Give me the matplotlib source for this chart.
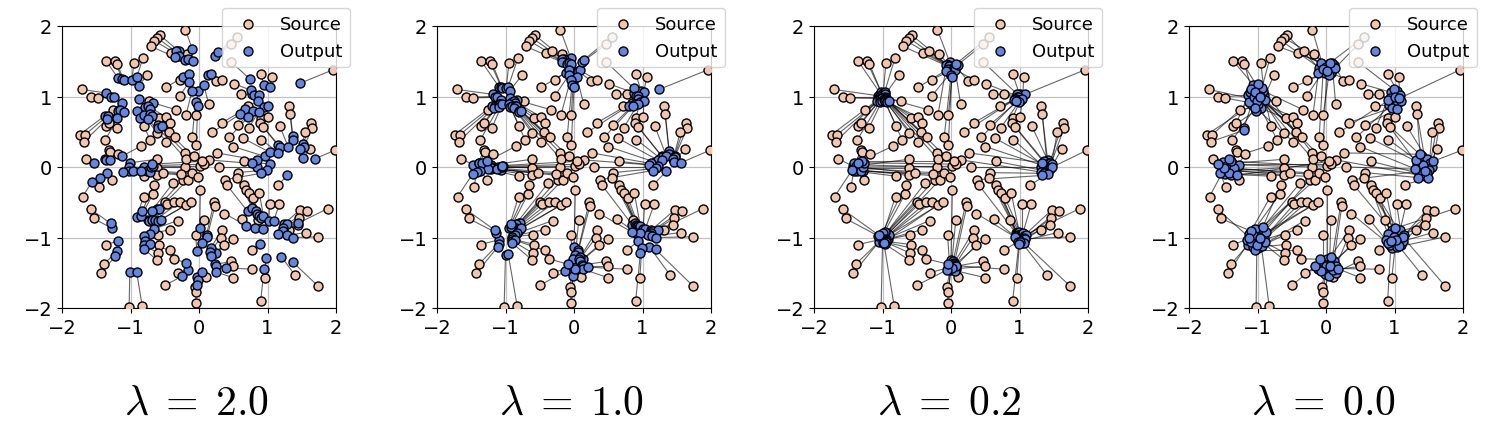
import matplotlib
matplotlib.use("Agg")
import matplotlib.pyplot as plt
import numpy as np
from matplotlib.collections import LineCollection

plt.rcParams['mathtext.fontset'] = 'cm'

lambdas = [2.0, 1.0, 0.2, 0.0]

# source points (same in every panel), grouped by the mode they end up in
src_pts = [
    # N
    (-0.20, 1.95), (-0.57, 1.87), (-0.61, 1.83), (-0.65, 1.79), (-0.70, 1.71),
    (-0.41, 1.62), (-0.32, 1.65), (-0.18, 1.60), (-0.48, 1.13), (-0.28, 1.24),
    (0.25, 1.22), (0.34, 1.23), (-0.28, 1.01), (-0.04, 0.74), (0.14, 0.90),
    (-0.19, 0.74), (0.47, 1.74), (0.55, 1.84), (-0.10, 0.42), (-0.04, 0.31),
    # NE
    (0.51, 1.18), (0.90, 1.32), (1.06, 1.27), (1.96, 1.38), (0.47, 1.49),
    (0.62, 1.04), (0.77, 1.04), (0.72, 0.86), (0.90, 0.70), (1.01, 0.71),
    (0.34, 0.63), (0.57, 0.60), (0.73, 0.56), (0.19, 0.49), (0.44, 0.42),
    # E
    (1.32, 0.87), (1.33, 0.75), (0.89, 0.62), (0.94, 0.57), (1.18, 0.58),
    (1.63, 0.63), (1.65, 0.55), (1.55, 0.49), (0.50, 0.29), (0.64, 0.41),
    (0.91, 0.39), (1.62, 0.26), (1.99, 0.24), (0.66, 0.08), (0.29, 0.00),
    (0.26, 0.20), (0.15, 0.10), (0.57, -0.08), (1.16, -0.25), (0.38, -0.18),
    # SE
    (0.41, -0.26), (0.55, -0.15), (0.65, -0.26), (0.68, -0.33), (0.73, -0.37),
    (0.79, -0.44), (0.88, -0.37), (1.03, -0.52), (1.17, -0.53), (1.47, -0.61),
    (1.57, -0.62), (1.88, -0.59), (1.46, -0.73), (1.45, -0.82), (1.31, -0.89),
    (1.56, -0.93), (1.74, -0.99), (0.63, -0.74), (0.86, -0.75), (0.37, -0.66),
    (0.77, -1.18), (1.40, -1.53), (1.74, -1.69), (0.96, -1.58), (0.90, -1.90),
    # S
    (0.02, -0.32), (0.22, -0.50), (0.23, -0.56), (0.07, -0.75), (-0.05, -0.97),
    (0.50, -1.02), (0.34, -0.89), (0.32, -1.00), (0.36, -1.11), (-0.31, -1.50),
    (-0.06, -1.70), (-0.04, -1.78), (-0.05, -1.93), (0.47, -1.34), (0.50, -1.41),
    (0.50, -1.57), (0.78, -1.45), (0.10, -1.56), (-0.50, -1.68), (-0.37, -1.30),
    # SW
    (-0.24, -0.18), (-0.16, -0.18), (-0.38, -0.23), (-0.50, -0.49), (-0.46, -0.52),
    (-0.36, -0.50), (-0.28, -0.50), (-0.19, -0.54), (-0.12, -0.50), (-0.81, -0.42),
    (-0.67, -0.38), (-0.66, -0.25), (-0.31, -0.76), (-0.43, -0.89), (-0.60, -0.96),
    (-0.58, -1.10), (-0.60, -1.22), (-0.43, -1.18), (-0.61, -1.32), (-1.36, -1.10),
    (-1.38, -1.37), (-1.43, -1.51), (-1.02, -1.98), (-0.83, -1.97), (-1.54, -0.73),
    (-1.58, -0.60),
    # W
    (-1.65, 0.12), (-1.32, 0.24), (-1.30, 0.21), (-1.18, 0.19), (-0.61, 0.11),
    (-0.62, -0.01), (-0.62, -0.12), (-0.53, -0.09), (-0.81, -0.13), (-1.27, -0.18),
    (-1.46, -0.29), (-1.70, -0.42), (-0.20, 0.00), (-0.10, -0.09), (-0.02, -0.14),
    (-0.26, -0.10), (0.01, 0.01), (0.08, 0.04), (0.04, 0.08), (-0.84, 0.30),
    # NW
    (-1.36, 1.51), (-1.23, 1.50), (-1.19, 1.46), (-0.95, 1.47), (-0.82, 1.54),
    (-0.76, 1.30), (-1.71, 1.10), (-1.58, 0.99), (-1.48, 0.98), (-1.26, 0.81),
    (-0.73, 0.93), (-0.33, 0.81), (-0.58, 0.69), (-0.48, 0.71), (-0.42, 0.63),
    (-1.74, 0.46), (-1.66, 0.46), (-1.68, 0.36), (-1.36, 0.58), (-1.31, 0.62),
    (-1.37, 0.38), (-1.20, 0.55), (-0.80, 0.58), (-0.71, 0.38), (-0.61, 0.48),
    (-0.44, 0.49), (-0.35, 0.43), (-0.48, 0.36), (-0.20, 0.20), (-0.19, 0.11),
    (-0.08, 0.15),
]

out_lam20 = [
    (-0.10, 1.68), (-0.29, 1.64), (-0.34, 1.64), (-0.29, 1.58), (-0.35, 1.56),
    (-0.21, 1.52), (-0.16, 1.53), (-0.09, 1.50), (-0.24, 1.27), (-0.14, 1.32),
    (0.13, 1.31), (0.17, 1.32), (-0.14, 1.21), (-0.02, 1.08), (0.07, 1.16),
    (-0.10, 1.08), (0.24, 1.58), (0.28, 1.63), (-0.05, 0.92), (-0.02, 0.86),
    (0.76, 1.09), (0.95, 1.16), (1.03, 1.14), (1.48, 1.19), (0.74, 1.25),
    (0.81, 1.02), (0.88, 1.02), (0.86, 0.93), (0.95, 0.85), (1.00, 0.86),
    (0.67, 0.82), (0.79, 0.80), (0.87, 0.78), (0.60, 0.75), (0.72, 0.71),
    (1.37, 0.44), (1.37, 0.38), (1.15, 0.31), (1.18, 0.29), (1.30, 0.29),
    (1.52, 0.32), (1.53, 0.28), (1.48, 0.25), (0.96, 0.15), (1.03, 0.21),
    (1.16, 0.20), (1.52, 0.13), (1.70, 0.12), (1.04, 0.04), (0.85, 0.00),
    (0.84, 0.10), (0.78, 0.05), (0.99, -0.04), (1.29, -0.12), (0.90, -0.09),
    (0.71, -0.63), (0.78, -0.58), (0.83, -0.63), (0.84, -0.67), (0.87, -0.69),
    (0.90, -0.72), (0.94, -0.69), (1.02, -0.76), (1.09, -0.77), (1.24, -0.81),
    (1.29, -0.81), (1.44, -0.80), (1.23, -0.87), (1.23, -0.91), (1.16, -0.95),
    (1.28, -0.97), (1.37, -1.00), (0.82, -0.87), (0.93, -0.88), (0.69, -0.83),
    (0.89, -1.09), (1.20, -1.27), (1.37, -1.35), (0.98, -1.29), (0.95, -1.45),
    (0.01, -0.87), (0.11, -0.96), (0.12, -0.99), (0.04, -1.08), (-0.03, -1.19),
    (0.25, -1.22), (0.17, -1.15), (0.16, -1.21), (0.18, -1.26), (-0.16, -1.46),
    (-0.03, -1.56), (-0.02, -1.60), (-0.03, -1.67), (0.24, -1.38), (0.25, -1.41),
    (0.25, -1.49), (0.39, -1.43), (0.05, -1.49), (-0.25, -1.55), (-0.19, -1.36),
    (-0.62, -0.59), (-0.58, -0.59), (-0.69, -0.62), (-0.75, -0.75), (-0.73, -0.76),
    (-0.68, -0.75), (-0.64, -0.75), (-0.60, -0.77), (-0.56, -0.75), (-0.91, -0.71),
    (-0.84, -0.69), (-0.83, -0.63), (-0.66, -0.88), (-0.72, -0.95), (-0.80, -0.98),
    (-0.79, -1.05), (-0.80, -1.11), (-0.72, -1.09), (-0.81, -1.16), (-1.18, -1.05),
    (-1.19, -1.19), (-1.22, -1.26), (-1.01, -1.49), (-0.91, -1.49), (-1.27, -0.87),
    (-1.29, -0.80),
    (-1.53, 0.06), (-1.37, 0.12), (-1.36, 0.10), (-1.30, 0.10), (-1.01, 0.06),
    (-1.02, 0.00), (-1.02, -0.06), (-0.97, -0.05), (-1.11, -0.07), (-1.34, -0.09),
    (-1.44, -0.15), (-1.56, -0.21), (-0.81, 0.00), (-0.76, -0.05), (-0.72, -0.07),
    (-0.84, -0.05), (-0.70, 0.00), (-0.67, 0.02), (-0.69, 0.04), (-1.13, 0.15),
    (-1.18, 1.26), (-1.12, 1.25), (-1.10, 1.23), (-0.98, 1.24), (-0.91, 1.27),
    (-0.88, 1.15), (-1.36, 1.05), (-1.29, 1.00), (-1.24, 0.99), (-1.13, 0.91),
    (-0.87, 0.97), (-0.67, 0.91), (-0.79, 0.85), (-0.74, 0.86), (-0.71, 0.82),
    (-1.37, 0.73), (-1.33, 0.73), (-1.34, 0.68), (-1.18, 0.79), (-1.16, 0.81),
    (-1.19, 0.69), (-1.10, 0.78), (-0.90, 0.79), (-0.86, 0.69), (-0.81, 0.74),
    (-0.72, 0.75), (-0.68, 0.72), (-0.74, 0.68), (-0.60, 0.60), (-0.60, 0.56),
    (-0.54, 0.58),
]

out_lam10 = [
    (-0.05, 1.55), (-0.14, 1.53), (-0.17, 1.53), (-0.14, 1.49), (-0.18, 1.49),
    (-0.10, 1.46), (-0.08, 1.47), (-0.05, 1.46), (-0.12, 1.34), (-0.07, 1.37),
    (0.06, 1.36), (0.09, 1.37), (-0.07, 1.31), (-0.01, 1.24), (0.04, 1.28),
    (-0.05, 1.24), (0.12, 1.49), (0.14, 1.52), (-0.03, 1.16), (0.00, 1.13),
    (0.88, 1.05), (0.98, 1.08), (1.02, 1.07), (1.24, 1.10), (0.87, 1.12),
    (0.90, 1.01), (0.94, 1.01), (0.93, 0.96), (0.97, 0.92), (1.02, 0.93),
    (0.84, 0.91), (0.89, 0.90), (0.93, 0.89), (0.80, 0.87), (0.86, 0.86),
    (1.39, 0.22), (1.39, 0.19), (1.28, 0.16), (1.29, 0.14), (1.35, 0.15),
    (1.47, 0.16), (1.47, 0.14), (1.45, 0.12), (1.18, 0.07), (1.22, 0.10),
    (1.29, 0.10), (1.46, 0.07), (1.56, 0.06), (1.22, 0.02), (1.13, 0.00),
    (1.12, 0.05), (1.10, 0.03), (1.20, -0.02), (1.35, -0.06), (1.15, -0.05),
    (0.85, -0.82), (0.89, -0.79), (0.91, -0.82), (0.92, -0.83), (0.93, -0.84),
    (0.95, -0.86), (0.97, -0.84), (1.01, -0.88), (1.04, -0.88), (1.12, -0.90),
    (1.14, -0.91), (1.22, -0.90), (1.12, -0.93), (1.11, -0.96), (1.08, -0.97),
    (1.14, -0.98), (1.19, -1.00), (0.91, -0.94), (0.97, -0.94), (0.84, -0.92),
    (0.94, -1.05), (1.10, -1.13), (1.19, -1.17), (0.99, -1.15), (0.97, -1.22),
    (0.00, -1.14), (0.06, -1.18), (0.06, -1.20), (0.02, -1.25), (-0.01, -1.30),
    (0.13, -1.31), (0.09, -1.28), (0.08, -1.31), (0.09, -1.34), (-0.08, -1.43),
    (-0.02, -1.48), (-0.01, -1.50), (-0.01, -1.54), (0.12, -1.39), (0.13, -1.41),
    (0.13, -1.45), (0.20, -1.42), (0.02, -1.45), (-0.13, -1.48), (-0.09, -1.38),
    (-0.81, -0.80), (-0.79, -0.80), (-0.85, -0.81), (-0.88, -0.87), (-0.87, -0.88),
    (-0.84, -0.87), (-0.82, -0.88), (-0.80, -0.89), (-0.78, -0.87), (-0.95, -0.86),
    (-0.92, -0.85), (-0.92, -0.81), (-0.83, -0.94), (-0.86, -0.97), (-0.90, -0.99),
    (-0.90, -1.02), (-0.90, -1.05), (-0.86, -1.04), (-0.90, -1.08), (-1.09, -1.03),
    (-1.10, -1.09), (-1.11, -1.13), (-1.00, -1.25), (-0.96, -1.24), (-1.14, -0.93),
    (-1.15, -0.90),
    (-1.47, 0.03), (-1.39, 0.06), (-1.38, 0.05), (-1.35, 0.05), (-1.21, 0.03),
    (-1.21, 0.00), (-1.21, -0.03), (-1.19, -0.02), (-1.26, -0.03), (-1.37, -0.05),
    (-1.42, -0.07), (-1.48, -0.10), (-1.11, 0.00), (-1.08, -0.02), (-1.06, -0.04),
    (-1.12, -0.03), (-1.05, 0.00), (-1.04, 0.01), (-1.05, 0.02), (-1.27, 0.08),
    (-1.09, 1.13), (-1.06, 1.13), (-1.05, 1.12), (-0.99, 1.12), (-0.96, 1.14),
    (-0.94, 1.08), (-1.18, 1.03), (-1.15, 1.00), (-1.12, 0.99), (-1.07, 0.95),
    (-0.93, 0.98), (-0.83, 0.95), (-0.90, 0.92), (-0.87, 0.93), (-0.86, 0.91),
    (-1.19, 0.87), (-1.16, 0.87), (-1.17, 0.84), (-1.09, 0.90), (-1.08, 0.90),
    (-1.10, 0.85), (-1.05, 0.89), (-0.95, 0.90), (-0.93, 0.85), (-0.90, 0.87),
    (-0.86, 0.87), (-0.84, 0.86), (-0.87, 0.84), (-0.80, 0.80), (-0.80, 0.78),
    (-0.77, 0.79),
]

out_lam02 = [
    (-0.02, 1.49), (-0.05, 1.45), (-0.06, 1.45), (-0.05, 1.44), (-0.07, 1.44),
    (-0.03, 1.43), (-0.03, 1.43), (0.03, 1.40), (-0.04, 1.39), (-0.02, 1.36),
    (0.08, 1.42), (0.05, 1.39), (-0.01, 1.33), (0.02, 1.31), (0.06, 1.38),
    (-0.08, 1.36), (0.10, 1.45), (0.07, 1.46), (0.00, 1.30), (0.01, 1.27),
    (0.96, 1.01), (1.00, 1.03), (1.05, 1.02), (1.08, 1.03), (0.96, 1.04),
    (0.97, 0.99), (0.98, 1.00), (0.95, 0.97), (1.01, 0.94), (1.04, 0.96),
    (0.93, 0.96), (0.97, 0.93), (0.99, 0.92), (0.92, 0.95), (0.95, 0.93),
    (1.40, 0.07), (1.41, 0.10), (1.37, 0.05), (1.36, 0.08), (1.43, 0.06),
    (1.44, 0.05), (1.45, 0.02), (1.47, 0.04), (1.34, 0.02), (1.35, 0.03),
    (1.38, -0.02), (1.45, -0.03), (1.48, 0.00), (1.35, -0.05), (1.32, 0.00),
    (1.33, 0.06), (1.31, -0.07), (1.36, -0.09), (1.42, -0.10), (1.33, -0.12),
    (0.95, -0.94), (0.96, -0.93), (0.97, -0.96), (0.99, -0.92), (0.98, -0.97),
    (1.02, -0.95), (1.01, -0.99), (1.03, -0.97), (1.05, -0.94), (1.06, -0.98),
    (1.08, -1.00), (1.09, -0.96), (1.05, -1.02), (1.06, -1.01), (1.04, -1.05),
    (1.07, -1.04), (1.08, -1.02), (0.97, -1.02), (0.99, -1.04), (0.93, -0.99),
    (0.98, -1.06), (1.04, -1.08), (1.07, -1.08), (1.00, -1.07), (0.99, -1.09),
    (0.00, -1.32), (0.03, -1.34), (0.05, -1.36), (0.01, -1.38), (-0.02, -1.40),
    (0.06, -1.38), (0.04, -1.37), (0.05, -1.40), (0.07, -1.41), (-0.05, -1.43),
    (-0.01, -1.44), (0.00, -1.45), (-0.01, -1.46), (0.05, -1.41), (0.08, -1.44),
    (0.06, -1.47), (0.08, -1.40), (0.02, -1.43), (-0.06, -1.46), (-0.04, -1.38),
    (-0.94, -0.93), (-0.92, -0.95), (-0.95, -0.94), (-0.96, -0.96), (-0.97, -0.99),
    (-0.93, -0.98), (-0.95, -1.00), (-0.92, -1.02), (-0.91, -0.97), (-0.99, -0.95),
    (-0.97, -0.92), (-1.00, -0.93), (-0.95, -1.02), (-0.96, -1.03), (-0.98, -1.04),
    (-0.99, -1.05), (-0.97, -1.06), (-0.95, -1.07), (-0.97, -1.09), (-1.04, -1.03),
    (-1.03, -1.04), (-1.05, -1.06), (-1.00, -1.08), (-0.98, -1.08), (-1.06, -0.98),
    (-1.05, -0.97),
    (-1.43, 0.01), (-1.40, 0.03), (-1.42, 0.05), (-1.39, 0.02), (-1.35, 0.02),
    (-1.34, -0.01), (-1.35, -0.04), (-1.33, 0.00), (-1.37, -0.06), (-1.40, -0.04),
    (-1.42, -0.05), (-1.44, -0.04), (-1.31, 0.03), (-1.30, -0.02), (-1.29, -0.05),
    (-1.32, -0.06), (-1.28, 0.00), (-1.27, 0.06), (-1.30, 0.08), (-1.36, 0.06),
    (-1.03, 1.04), (-1.02, 1.06), (-1.00, 1.02), (-0.99, 1.05), (-0.97, 1.06),
    (-0.96, 1.03), (-1.06, 1.01), (-1.05, 0.99), (-1.04, 0.97), (-1.02, 0.96),
    (-0.97, 0.99), (-0.95, 0.98), (-0.96, 0.96), (-0.97, 0.94), (-0.95, 0.95),
    (-1.06, 0.96), (-1.05, 0.94), (-1.08, 0.93), (-1.03, 0.96), (-1.01, 0.98),
    (-1.04, 0.92), (-1.01, 0.93), (-0.98, 0.97), (-0.97, 0.94), (-0.96, 0.95),
    (-0.95, 0.96), (-0.94, 0.95), (-0.96, 0.93), (-0.94, 0.94), (-0.93, 0.92),
    (-0.91, 0.93),
]

out_lam00 = [
    (-0.05, 1.45), (-0.10, 1.40), (0.04, 1.46), (-0.03, 1.36), (0.08, 1.43),
    (-0.07, 1.47), (0.02, 1.38), (0.10, 1.39), (-0.02, 1.33), (0.05, 1.35),
    (0.12, 1.44), (0.07, 1.33), (0.00, 1.42), (0.04, 1.30), (0.09, 1.47),
    (-0.11, 1.34), (0.13, 1.40), (0.06, 1.48), (-0.04, 1.39), (0.01, 1.36),
    (0.95, 1.06), (1.04, 1.08), (1.08, 1.02), (1.02, 0.95), (0.99, 1.10),
    (0.94, 0.98), (0.97, 0.92), (0.92, 0.88), (1.03, 0.89), (1.09, 0.93),
    (0.96, 0.84), (1.04, 0.82), (0.90, 0.95), (1.00, 1.00), (1.06, 0.98),
    (1.38, 0.12), (1.45, 0.08), (1.33, 0.05), (1.40, 0.15), (1.47, 0.12),
    (1.52, 0.05), (1.55, 0.00), (1.50, -0.04), (1.36, -0.05), (1.42, 0.03),
    (1.32, 0.10), (1.47, -0.08), (1.56, 0.08), (1.40, -0.10), (1.30, -0.03),
    (1.37, 0.18), (1.44, -0.13), (1.35, -0.15), (1.49, -0.15), (1.44, -0.05),
    (0.96, -0.90), (1.02, -0.94), (0.92, -1.00), (1.05, -0.98), (1.09, -0.95),
    (0.98, -1.06), (1.03, -1.08), (1.11, -1.03), (1.08, -0.90), (1.14, -0.97),
    (0.95, -1.12), (1.01, -0.87), (1.10, -1.10), (0.90, -0.95), (0.88, -1.03),
    (1.13, -1.05), (0.97, -1.15), (0.93, -1.10), (1.04, -1.13), (0.90, -1.08),
    (0.99, -0.99), (1.06, -1.12), (1.12, -0.99), (1.02, -1.03), (0.95, -1.05),
    (0.02, -1.30), (0.08, -1.35), (0.10, -1.42), (0.05, -1.48), (-0.05, -1.38),
    (0.12, -1.33), (0.07, -1.27), (0.15, -1.40), (0.03, -1.45), (-0.12, -1.44),
    (-0.02, -1.52), (0.04, -1.54), (0.00, -1.40), (0.14, -1.50), (0.10, -1.46),
    (0.06, -1.40), (0.17, -1.44), (-0.07, -1.48), (-0.16, -1.41), (-0.09, -1.31),
    (-0.93, -0.95), (-0.98, -0.90), (-1.02, -0.97), (-1.06, -1.02), (-0.95, -1.06),
    (-0.90, -1.00), (-0.99, -1.10), (-1.09, -1.08), (-0.87, -0.92), (-1.12, -0.95),
    (-1.04, -0.88), (-0.92, -0.85), (-1.00, -1.15), (-1.14, -1.10), (-0.94, -1.12),
    (-1.07, -1.14), (-0.89, -1.07), (-1.03, -1.18), (-0.98, -1.03), (-1.16, -1.03),
    (-1.10, -1.06), (-1.06, -0.97), (-1.01, -1.11), (-0.96, -1.00), (-1.09, -0.91),
    (-1.12, -1.00),
    (-1.50, 0.07), (-1.36, 0.04), (-1.45, -0.02), (-1.30, 0.00), (-1.40, 0.05),
    (-1.44, -0.06), (-1.52, -0.03), (-1.33, -0.06), (-1.47, -0.10), (-1.39, -0.12),
    (-1.55, -0.08), (-1.46, 0.02), (-1.27, 0.03), (-1.35, -0.02), (-1.42, -0.09),
    (-1.49, -0.01), (-1.38, 0.08), (-1.58, 0.04), (-1.30, -0.12), (-1.42, 0.12),
    (-1.02, 1.12), (-0.95, 1.06), (-1.07, 1.05), (-0.90, 1.02), (-0.98, 0.96),
    (-0.93, 0.93), (-1.10, 0.97), (-1.14, 1.02), (-1.04, 0.90), (-0.97, 0.86),
    (-0.89, 0.95), (-0.92, 1.08), (-1.00, 1.03), (-1.06, 0.96), (-0.95, 0.83),
    (-1.08, 0.88), (-1.13, 0.92), (-1.20, 0.52), (-1.02, 0.80), (-1.11, 1.07),
    (-0.99, 0.90), (-1.05, 0.99), (-0.93, 1.12), (-1.01, 0.93), (-1.06, 1.16),
    (-0.96, 1.01), (-1.09, 1.10), (-1.03, 0.84), (-0.99, 1.18), (-1.04, 1.06),
    (-0.97, 0.99),
]

outputs = [out_lam20, out_lam10, out_lam02, out_lam00]

src_color = '#f2c6ae'
out_color = '#6386e2'

fig = plt.figure(figsize=(14.88, 4.27), dpi=100)
lefts = [62, 437, 814, 1189]

src = np.array(src_pts)
for i, (lam, outs) in enumerate(zip(lambdas, outputs)):
    ax = fig.add_axes([lefts[i] / 1488, 1 - 309 / 427, 274 / 1488, 282 / 427])
    out = np.array(outs)
    segs = np.stack([src, out], axis=1)
    ax.add_collection(LineCollection(segs, colors='k', linewidths=0.8, alpha=0.6, zorder=2))
    ax.scatter(src[:, 0], src[:, 1], s=42, c=src_color, edgecolors='k', linewidths=1.0,
               label='Source', zorder=3)
    ax.scatter(out[:, 0], out[:, 1], s=42, c=out_color, edgecolors='k', linewidths=1.0,
               label='Output', zorder=4)
    ax.set_xlim(-2, 2)
    ax.set_ylim(-2, 2)
    ax.set_xticks([-2, -1, 0, 1, 2])
    ax.set_yticks([-2, -1, 0, 1, 2])
    ax.tick_params(labelsize=14)
    ax.grid(True, color='#a8a8a8', linewidth=0.9, alpha=0.7)
    ax.set_axisbelow(True)
    ax.legend(loc='upper right', bbox_to_anchor=(1.05, 1.065), borderaxespad=0,
              fontsize=13, framealpha=0.8)
    cx = (lefts[i] + 135) / 1488
    fig.text(cx, 0.028, r'$\lambda\;=\;%.1f$' % lam, fontsize=30, ha='center', va='baseline')

fig.savefig('out.png', dpi=100)
